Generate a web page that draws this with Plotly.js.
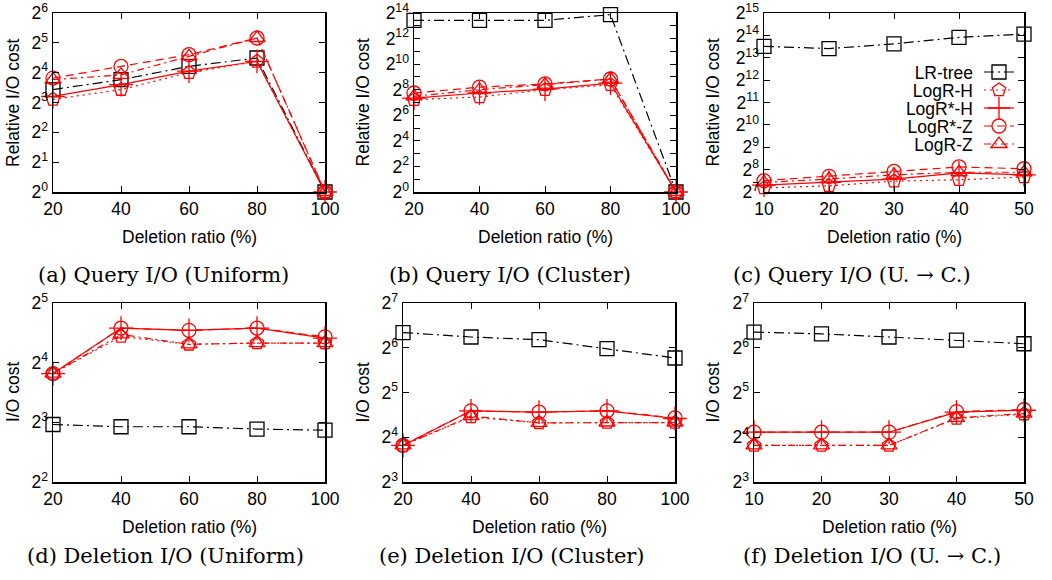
<!DOCTYPE html>
<html><head><meta charset="utf-8">
<script src="https://cdn.plot.ly/plotly-3.0.1.min.js"></script>
<style>html,body{margin:0;padding:0;background:#fff}#chart{width:1052px;height:580px}</style>
</head><body><div id="chart"></div>
<script>
// ---- data ----
const seriesNames = ['LR-tree', 'LogR-H', 'LogR*-H', 'LogR*-Z', 'LogR-Z'];
const ratiosAB = [20, 40, 60, 80, 100];
const ratiosUC = [10, 20, 30, 40, 50];

// (a) Query I/O (Uniform) – relative I/O cost
const queryUniform = [
  [10.8, 13.6, 18.5, 22.5, 1],
  [8.6, 10.8, 16.0, 20.8, 1],
  [9.2, 12.1, 16.6, 20.8, 1],
  [14.1, 18.5, 24.3, 35.8, 1],
  [13.6, 15.2, 23.4, 35.8, 1]
];
// (b) Query I/O (Cluster)
const queryCluster = [
  [11035, 11035, 11035, 14970, 1],
  [149, 172, 256, 335, 1],
  [163, 214, 265, 367, 1],
  [214, 294, 350, 458, 1],
  [179, 256, 338, 458, 1]
];
// (c) Query I/O (U. -> C.)
const queryUtoC = [
  [11665, 10884, 12585, 15389, 17076],
  [145, 155, 179, 187, 204],
  [158, 172, 191, 231, 218],
  [182, 208, 242, 278, 263],
  [172, 191, 218, 236, 236]
];
// (d) Deletion I/O (Uniform)
const delUniform = [
  [7.8, 7.6, 7.6, 7.4, 7.3],
  [14.1, 21.7, 19.8, 20.1, 20.1],
  [14.1, 23.9, 23.3, 23.9, 21.3],
  [14.1, 23.9, 23.3, 23.9, 21.6],
  [14.1, 22.2, 19.8, 20.1, 20.1]
];
// (e) Deletion I/O (Cluster)
const delCluster = [
  [81, 75.6, 72.5, 63.1, 54.6],
  [14.1, 21.9, 20.0, 20.1, 20.1],
  [14.1, 24.1, 23.6, 24.1, 21.4],
  [14.1, 24.1, 23.6, 24.1, 21.6],
  [14.1, 22.2, 20.0, 20.1, 20.1]
];
// (f) Deletion I/O (U. -> C.)
const delUtoC = [
  [81.6, 79.3, 75.6, 72.0, 68.1],
  [14.1, 14.1, 14.1, 21.4, 22.9],
  [17.3, 17.3, 17.3, 23.6, 24.3],
  [17.3, 17.3, 17.3, 23.8, 24.5],
  [14.1, 14.1, 14.1, 21.6, 23.1]
];

// y tick exponents (base 2) per panel
const tickExpA = [0, 1, 2, 3, 4, 5, 6];
const tickExpB = [0, 1, 2, 3, 4, 5, 6, 7, 8, 9, 10, 11, 12, 13, 14];
const tickExpC = [7, 8, 9, 10, 11, 12, 13, 14, 15];
const tickExpD = [2, 3, 4, 5];
const tickExpE = [3, 4, 5, 6, 7];
const tickExpF = [3, 4, 5, 6, 7];

const captions = ['(a) Query I/O (Uniform)', '(b) Query I/O (Cluster)', '(c) Query I/O (U. \u2192 C.)',
                  '(d) Deletion I/O (Uniform)', '(e) Deletion I/O (Cluster)', '(f) Deletion I/O (U. \u2192 C.)'];
const xTitle = 'Deletion ratio (%)';
const yTitleQuery = 'Relative I/O cost';
const yTitleDel = 'I/O cost';

// ---- styles ----
const W = 1052, H = 580;
const px = v => v / W, py = v => 1 - v / H;
const colors = ['#000000', '#ff0000', '#ff0000', '#ff0000', '#ff0000'];
const dashes = ['10px,4px,2px,4px', '2px,4px', 'solid', '8px,5px', '7px,4px,2px,4px'];
const symbols = ['square-open', 'pentagon-open', 'cross-thin-open', 'circle-open', 'triangle-up-open'];
const msizes = [14, 14, 17, 14, 14];
const sans = 'Liberation Sans, Arial, sans-serif';
const serif = 'DejaVu Serif, serif';
const FS = 17.5;

const panels = [
  {id: '',  xs: ratiosAB, data: queryUniform, tick: tickExpA, step: 1, xd: [53, 325],  yd: [13, 192],  yt: yTitleQuery, ytx: 12.5, capx: 163, capy: 275},
  {id: '2', xs: ratiosAB, data: queryCluster, tick: tickExpB, step: 2, xd: [414, 676], yd: [13, 192],  yt: yTitleQuery, ytx: 362, capx: 510, capy: 275},
  {id: '3', xs: ratiosUC, data: queryUtoC,    tick: tickExpC, step: 1, xd: [764, 1024], yd: [13, 192], yt: yTitleQuery, ytx: 712, capx: 852, capy: 275},
  {id: '4', xs: ratiosAB, data: delUniform,   tick: tickExpD, step: 1, xd: [53, 325],  yd: [303, 482], yt: yTitleDel,   ytx: 12.5, capx: 165, capy: 556},
  {id: '5', xs: ratiosAB, data: delCluster,   tick: tickExpE, step: 1, xd: [403, 675], yd: [303, 482], yt: yTitleDel,   ytx: 362, capx: 512, capy: 556},
  {id: '6', xs: ratiosUC, data: delUtoC,      tick: tickExpF, step: 1, xd: [754, 1024], yd: [303, 482], yt: yTitleDel,  ytx: 712, capx: 872, capy: 556}
];

const traces = [];
const layout = {
  width: W, height: H,
  margin: {l: 0, r: 0, t: 0, b: 0, autoexpand: false},
  paper_bgcolor: '#fff', plot_bgcolor: '#fff',
  font: {family: sans, size: FS, color: '#000'},
  showlegend: true,
  legend: {x: px(1022), xanchor: 'right', y: py(62), yanchor: 'top', bgcolor: 'rgba(0,0,0,0)',
           font: {family: sans, size: FS, color: '#000'}, traceorder: 'normal', itemwidth: 30, tracegroupgap: 0},
  annotations: [],
  shapes: []
};

const LOG2 = Math.log10(2);
panels.forEach((p, pi) => {
  const xa = 'x' + p.id, ya = 'y' + p.id;
  p.data.forEach((vals, si) => {
    traces.push({
      type: 'scatter', mode: 'lines+markers', x: p.xs, y: vals,
      xaxis: xa, yaxis: ya, name: seriesNames[si],
      showlegend: pi === 2, legendgroup: seriesNames[si],
      cliponaxis: false,
      line: {color: colors[si], width: 1.2, dash: dashes[si]},
      marker: {symbol: symbols[si], size: msizes[si], color: colors[si], line: {color: colors[si], width: 1.3}}
    });
  });
  const tv = p.tick.map(e => Math.pow(2, e));
  const tt = p.tick.map((e, i) => (i % p.step === 0) ? '2<sup>' + e + '</sup>' : '');
  const axCommon = {showline: true, linecolor: '#000', linewidth: 1.5, mirror: 'allticks', ticks: 'inside',
                    ticklen: 6, tickwidth: 1, tickcolor: '#000', showgrid: false, zeroline: false, fixedrange: true,
                    automargin: false, tickfont: {family: sans, size: FS, color: '#000'}};
  layout['xaxis' + p.id] = Object.assign({}, axCommon, {
    domain: [px(p.xd[0]), px(p.xd[1])], anchor: ya, range: [p.xs[0], p.xs[p.xs.length - 1]],
    tickmode: 'array', tickvals: p.xs, ticktext: p.xs.map(String)
  });
  layout['yaxis' + p.id] = Object.assign({}, axCommon, {
    domain: [py(p.yd[1]), py(p.yd[0])], anchor: xa, type: 'log',
    range: [p.tick[0] * LOG2, p.tick[p.tick.length - 1] * LOG2],
    tickmode: 'array', tickvals: tv, ticktext: tt
  });
  layout.annotations.push({xref: 'paper', yref: 'paper', x: px((p.xd[0] + p.xd[1]) / 2), y: py(p.yd[1] + 45),
    text: xTitle, showarrow: false, xanchor: 'center', yanchor: 'middle', font: {family: sans, size: FS, color: '#000'}});
  layout.annotations.push({xref: 'paper', yref: 'paper', x: px(p.ytx), y: py((p.yd[0] + p.yd[1]) / 2),
    text: p.yt, showarrow: false, textangle: -90, xanchor: 'center', yanchor: 'middle', font: {family: sans, size: FS, color: '#000'}});
  layout.annotations.push({xref: 'paper', yref: 'paper', x: px(p.capx), y: py(p.capy),
    text: captions[pi], showarrow: false, xanchor: 'center', yanchor: 'middle', font: {family: serif, size: 21, color: '#000'}});
});

Plotly.newPlot('chart', traces, layout, {displayModeBar: false, staticPlot: true}).then(gd => {
  // gnuplot-style key: label right-aligned to the left of the sample, compact rows
  const legend = gd.querySelector('.legend');
  if (!legend) return;
  legend.removeAttribute('clip-path');
  legend.querySelectorAll('[clip-path]').forEach(el => el.removeAttribute('clip-path'));
  const items = Array.from(legend.querySelectorAll('.traces'));
  if (!items.length) return;
  const parse = s => {
    const m = /translate\(\s*([-\d.e]+)[ ,]+([-\d.e]+)/.exec(s || '');
    return m ? [parseFloat(m[1]), parseFloat(m[2])] : [0, 0];
  };
  const firstRow = 72, rowGap = 18, markerCenter = 999, textGap = 26;
  const base = parse(items[0].getAttribute('transform'));
  const pt0 = items[0].querySelector('.legendpoints path') || items[0].querySelector('.legendsymbols');
  const r = pt0.getBoundingClientRect();
  const cx = r.left + r.width / 2, cy = r.top + r.height / 2;
  const dx = markerCenter - cx;
  const dy = firstRow - cy;
  // local x of the marker within the item group
  const localMarkerX = cx - items[0].getBoundingClientRect().left + (items[0].getBoundingClientRect().left - (legend.getBoundingClientRect().left));
  items.forEach((g, i) => {
    g.setAttribute('transform', 'translate(' + (base[0] + dx) + ',' + (base[1] + dy + i * rowGap) + ')');
  });
  // place text right-aligned at markerCenter - textGap (page coords)
  items.forEach((g) => {
    const t = g.querySelector('.legendtext');
    if (!t) return;
    t.setAttribute('text-anchor', 'end');
    t.style.textAnchor = 'end';
    t.setAttribute('x', '0');
    const gx = g.getBoundingClientRect ? null : null;
    // measure where x=0 lands in page coords via the text's right edge
    const tr = t.getBoundingClientRect();
    const shift = (markerCenter - textGap) - tr.right;
    t.setAttribute('x', String(shift));
  });
  const bg = legend.querySelector('.bg');
  if (bg) bg.style.display = 'none';
});
</script>
</body></html>
